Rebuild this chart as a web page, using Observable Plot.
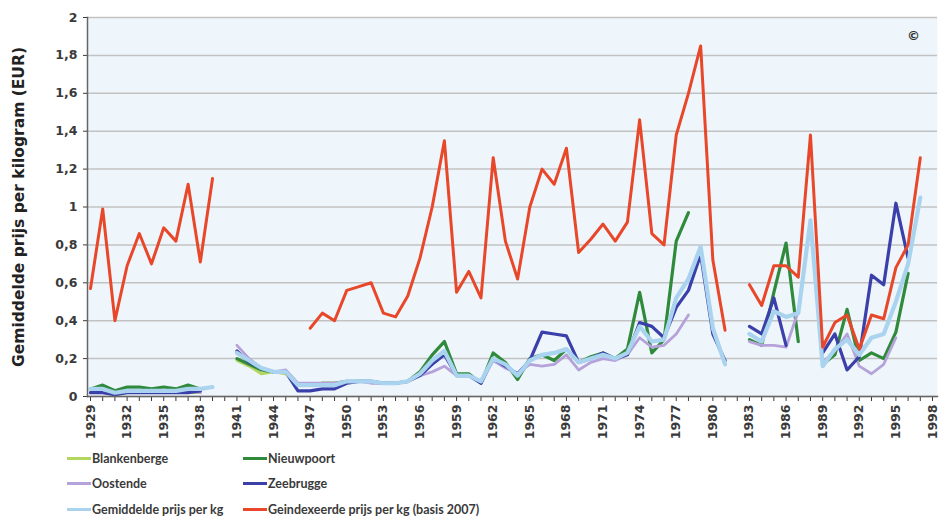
<!DOCTYPE html>
<html><head><meta charset="utf-8">
<script src="https://cdn.jsdelivr.net/npm/d3@7"></script>
<script src="https://cdn.jsdelivr.net/npm/@observablehq/plot@0.6"></script>
<style>
body{margin:0;background:#fff;}
#wrap{position:relative;width:941px;height:518px;font-family:Lato,"DejaVu Sans",sans-serif;}
#legend{position:absolute;left:0;top:0;width:941px;height:518px;pointer-events:none;}
.item{position:absolute;display:flex;align-items:center;font-size:12.5px;font-weight:bold;color:#3a3a3a;white-space:nowrap;}
.sw{display:inline-block;width:24px;height:3px;margin-right:1px;}
</style></head><body>
<div id="wrap"><div id="chart"></div><div id="legend"></div></div>
<script>
const years = d3.range(1929, 1998);
const axisYears = d3.range(1929, 1999);
const yTicks = [0, 0.2, 0.4, 0.6, 0.8, 1, 1.2, 1.4, 1.6, 1.8, 2];
const N = null;

const blankenberge = [0.02,0.02,0.01,0.02,0.02,0.02,0.02,0.02,0.02,0.02,N,N,
  0.19,0.16,0.12,0.13,0.12,0.06,0.06,0.07,0.07,0.07,0.08,0.08,0.07,0.07,0.08,N,N,N,N,N,
  N,N,N,N,N,N,N,N,N,N,N,N,N,N,N,N,N,N,N,N,N,N,N,N,N,N,N,N,N,N,N,N,N,N,N,N,N];
const nieuwpoort = [0.04,0.06,0.03,0.05,0.05,0.04,0.05,0.04,0.06,0.04,N,N,
  0.20,0.17,0.14,0.13,0.13,0.06,0.06,0.07,0.07,0.08,0.08,0.08,0.07,0.07,0.08,0.13,0.22,0.29,0.12,0.12,
  0.07,0.23,0.18,0.09,0.20,0.22,0.19,0.25,0.18,0.21,0.23,0.20,0.25,0.55,0.23,0.30,0.82,0.97,N,N,N,N,
  0.30,0.27,0.55,0.81,0.29,N,0.17,0.22,0.46,0.19,0.23,0.20,0.34,0.65,N];
const oostende = [0.02,0.02,0.02,0.02,0.02,0.02,0.02,0.02,0.03,0.02,N,N,
  0.27,0.20,0.15,0.13,0.14,0.07,0.07,0.07,0.07,0.08,0.08,0.07,0.07,0.07,0.08,0.11,0.13,0.16,0.11,0.11,
  0.08,0.19,0.15,0.12,0.17,0.16,0.17,0.22,0.14,0.18,0.20,0.19,0.22,0.31,0.26,0.27,0.33,0.43,N,N,N,N,
  0.29,0.27,0.27,0.26,0.45,N,0.18,0.24,0.33,0.16,0.12,0.17,0.31,N,N];
const zeebrugge = [0.02,0.02,0.01,0.02,0.02,0.02,0.02,0.02,0.02,0.03,N,N,
  0.24,0.18,0.15,0.13,0.13,0.03,0.03,0.04,0.04,0.07,0.08,0.08,0.07,0.07,0.08,0.11,0.17,0.22,0.11,0.11,
  0.07,0.20,0.16,0.12,0.19,0.34,0.33,0.32,0.18,0.20,0.23,0.20,0.22,0.39,0.37,0.31,0.47,0.56,0.75,0.33,0.19,N,
  0.37,0.33,0.52,0.27,N,N,0.23,0.33,0.14,0.21,0.64,0.59,1.02,0.73,N];
const gemiddelde = [0.04,0.04,0.02,0.03,0.03,0.03,0.03,0.03,0.04,0.04,0.05,N,
  0.23,0.19,0.15,0.13,0.13,0.06,0.06,0.06,0.06,0.08,0.08,0.08,0.07,0.07,0.08,0.12,0.19,0.24,0.11,0.11,
  0.08,0.20,0.17,0.11,0.19,0.22,0.23,0.25,0.18,0.20,0.22,0.20,0.23,0.37,0.29,0.30,0.52,0.62,0.79,0.36,0.17,N,
  0.33,0.29,0.45,0.42,0.44,0.93,0.16,0.25,0.30,0.22,0.31,0.33,0.50,0.70,1.05];
const geindexeerde = [0.57,0.99,0.40,0.69,0.86,0.70,0.89,0.82,1.12,0.71,1.15,N,
  N,N,N,N,N,N,0.36,0.44,0.40,0.56,0.58,0.60,0.44,0.42,0.53,0.73,1.00,1.35,0.55,0.66,
  0.52,1.26,0.82,0.62,1.00,1.20,1.12,1.31,0.76,0.83,0.91,0.82,0.92,1.46,0.86,0.80,1.38,1.60,1.85,0.72,0.35,N,
  0.59,0.48,0.69,0.69,0.63,1.38,0.26,0.39,0.43,0.25,0.43,0.41,0.68,0.80,1.26];

const seriesNames = ["Blankenberge","Nieuwpoort","Oostende","Zeebrugge","Gemiddelde prijs per kg","Geindexeerde prijs per kg (basis 2007)"];
const seriesValues = [blankenberge, nieuwpoort, oostende, zeebrugge, gemiddelde, geindexeerde];
const seriesColors = ["#b3d65c","#2f8a3c","#b6a2da","#3b3fa9","#a9d3ee","#e9472a"];
const seriesWidths = [2.8, 3.2, 2.8, 3.2, 4.2, 3];
const yTitle = "Gemiddelde prijs per kilogram (EUR)";

const rows = seriesValues.map(vals => years.map((yr, i) => ({year: yr, value: vals[i] == null ? NaN : vals[i]})));
const fmt = d => String(Math.round(d * 10) / 10).replace(".", ",");
const axisFont = "'DejaVu Sans', sans-serif";

const lineMarks = rows.map((r, k) => Plot.lineY(r, {
  x: "year", y: "value", stroke: seriesColors[k], strokeWidth: seriesWidths[k],
  strokeLinejoin: "round", strokeLinecap: "round"
}));

const chart = Plot.plot({
  width: 941, height: 450,
  marginLeft: 87, marginRight: 4, marginTop: 17, marginBottom: 54,
  insetLeft: 3, insetRight: 5,
  style: {fontFamily: axisFont, background: "transparent", overflow: "visible"},
  x: {domain: [1929, 1998]},
  y: {domain: [0, 2]},
  marks: [
    Plot.frame({fill: "#eef6fb"}),
    Plot.gridY(yTicks, {stroke: "#c2c2c2", strokeOpacity: 1, strokeWidth: 1.5}),
    Plot.axisY(yTicks, {tickSize: 4, tickPadding: 6, tickFormat: fmt, label: null, fontSize: 12.5, fontWeight: "bold", color: "#3a3a3a"}),
    Plot.axisX(axisYears, {tickSize: 5, tickPadding: 3, tickRotate: -90, tickFormat: d => (d - 1929) % 3 === 0 ? String(d) : "", label: null, fontSize: 12.5, fontWeight: "bold", color: "#3a3a3a"}),
    ...lineMarks,
    Plot.frame({anchor: "left", stroke: "#666", strokeWidth: 1.5}),
    Plot.frame({anchor: "bottom", stroke: "#666", strokeWidth: 1.5}),
    Plot.text([yTitle], {frameAnchor: "left", textAnchor: "middle", rotate: -90, dx: -68, fontSize: 15.5, fontWeight: "bold", fill: "#222"}),
    Plot.text(["©"], {frameAnchor: "top-right", textAnchor: "middle", dx: -24, dy: 13, fontSize: 13, fontWeight: "bold", fill: "#333"})
  ]
});
document.getElementById("chart").appendChild(chart);

const legend = document.getElementById("legend");
const legendPos = [[67,458],[243,458],[67,483],[243,483],[67,509],[243,509]];
seriesNames.forEach((name, k) => {
  const it = document.createElement("div");
  it.className = "item";
  it.style.left = legendPos[k][0] + "px";
  it.style.top = (legendPos[k][1] - 9) + "px";
  it.style.height = "18px";
  const sw = document.createElement("span");
  sw.className = "sw";
  sw.style.background = seriesColors[k];
  it.appendChild(sw);
  it.appendChild(document.createTextNode(name));
  legend.appendChild(it);
});
</script>
</body></html>
